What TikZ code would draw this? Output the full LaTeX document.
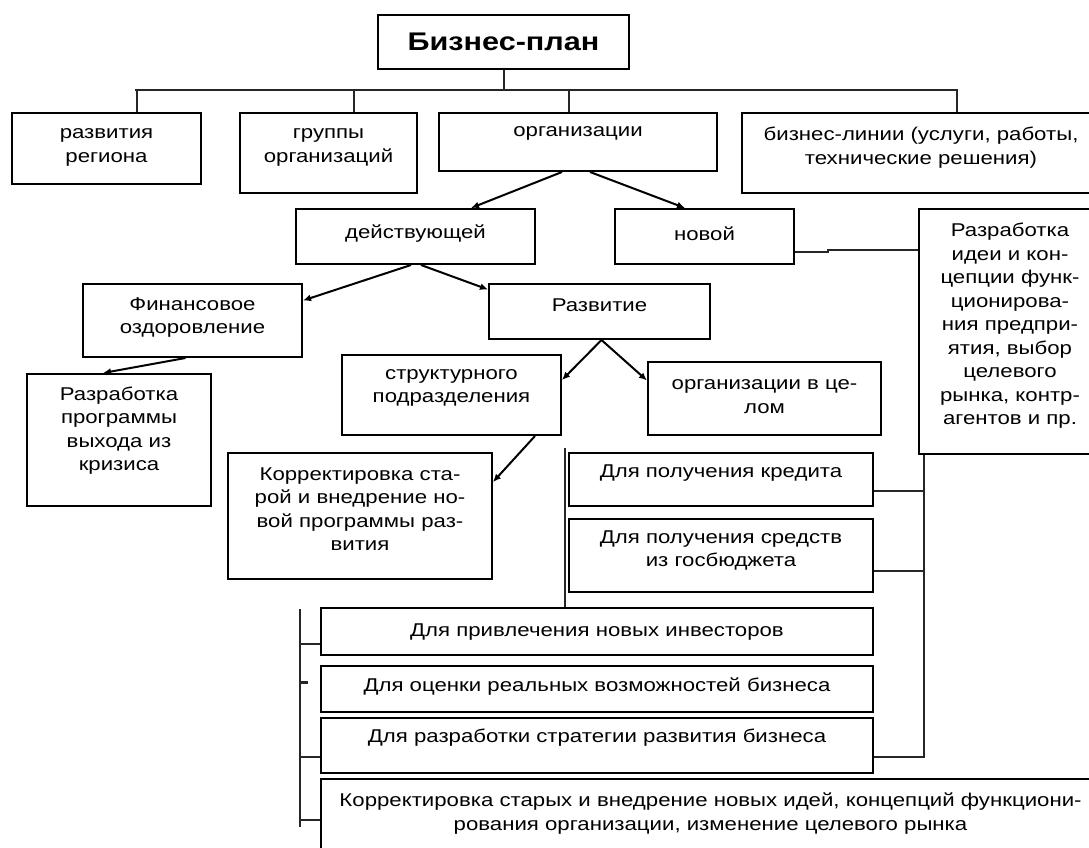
\documentclass[tikz,border=0pt]{standalone}
\usepackage{fontspec}
\setmainfont[FakeStretch=1.2]{Liberation Sans}
\usetikzlibrary{arrows.meta}
\tikzset{
  boxn/.style={draw=black, line width=2pt, inner sep=0pt, rectangle},
  txt/.style={inner sep=0pt, align=center, font=\fontsize{18.5}{23.5}\selectfont, text=black},
  conn/.style={line width=2pt, draw=black!85},
  arr/.style={conn, draw=black, -{Latex[length=8pt,width=7pt]}},
}
\newcommand\bx[7]{%
  \node[boxn, minimum width={#4-#2}, minimum height={#5-#3}] (#1) at ({(#2+#4)/2},{(#3+#5)/2}) {};
  \node[txt] (#1-t) at ({(#2+#4)/2},#6) {#7};
}
\begin{document}
\begin{tikzpicture}[x=1pt,y=-1pt]
\useasboundingbox (0,0) rectangle (1089,848);
\clip (0,0) rectangle (1089,848);
\fill[white] (0,0) rectangle (1089,848);

% boxes
\node[boxn, minimum width=251, minimum height=54] (title) at (503.5,42) {};
\node[txt, font=\fontsize{25.5}{30}\selectfont\bfseries] (title-t) at (503.5,42) {Бизнес-план};

\bx{reg}{12}{113}{201}{184}{147.5}{развития\\региона}
\bx{grp}{240}{113}{417}{193}{147.5}{группы\\организаций}
\bx{org}{439}{113}{717}{171}{133}{организации}
\bx{biz}{742}{113}{1100}{193}{147.5}{бизнес-линии (услуги, работы,\\технические решения)}
\bx{deyst}{296}{209}{535}{264}{234}{действующей}
\bx{novoy}{615}{209}{794}{264}{234}{новой}
\bx{idea}{919}{209}{1101}{454}{326}{Разработка\\идеи и кон-\\цепции функ-\\ционирова-\\ния предпри-\\ятия, выбор\\целевого\\рынка, контр-\\агентов и пр.}
\bx{fin}{83}{284}{302}{357}{317.5}{Финансовое\\оздоровление}
\bx{razv}{489}{284}{710}{339}{305}{Развитие}
\bx{prog}{27}{374}{211}{506}{430.5}{Разработка\\программы\\выхода из\\кризиса}
\bx{strukt}{342}{355}{561}{435}{388}{структурного\\подразделения}
\bx{orgc}{648}{362}{881}{435}{396.5}{организации в це-\\лом}
\bx{korr}{228}{453}{492}{579}{509}{Корректировка ста-\\рой и внедрение но-\\вой программы раз-\\вития}
\bx{kred}{569}{453}{873}{506}{473}{Для получения кредита}
\bx{sredstv}{569}{519}{873}{592}{550.5}{Для получения средств\\из госбюджета}
\bx{invest}{321}{608}{873}{655}{632}{Для привлечения новых инвесторов}
\bx{ocenka}{321}{666}{873}{712}{687}{Для оценки реальных возможностей бизнеса}
\bx{strat}{321}{718}{873}{773}{738}{Для разработки стратегии развития бизнеса}
\bx{korrb}{321}{779}{1100}{870}{813.5}{Корректировка старых и внедрение новых идей, концепций функциони-\\рования организации, изменение целевого рынка}

% top tree
\coordinate (busL) at (135,90);
\coordinate (busR) at (958,90);
\draw[conn] (title.south) -- (title.south |- busL);
\draw[conn] (busL) -- (busR);
\draw[conn] ([xshift=30.5pt]reg.north) |- (busL);
\draw[conn] ([xshift=25.5pt]grp.north) -- ([xshift=25.5pt]grp.north |- busL);
\draw[conn] ([xshift=-9pt]org.north) -- ([xshift=-9pt]org.north |- busL);
\draw[conn] ([xshift=36pt]biz.north) |- (busR);

% arrows
\draw[arr] ([xshift=-16pt]org.south) -- ([xshift=55.5pt]deyst.north);
\draw[arr] ([xshift=12pt]org.south) -- ([xshift=-19.5pt]novoy.north);
\draw[arr] ([xshift=-4.5pt]deyst.south) -- ([yshift=20pt]fin.east);
\draw[arr] ([xshift=5.5pt]deyst.south) -- ([yshift=22pt]razv.west);
\draw[arr] ([xshift=-7pt]fin.south) -- ([xshift=-16pt]prog.north);
\draw[arr] ([xshift=2pt]razv.south) -- ([yshift=15pt]strukt.east);
\draw[arr] ([xshift=2pt]razv.south) -- ([yshift=18pt]orgc.west);
\draw[arr] ([xshift=83.5pt]strukt.south) -- ([yshift=34pt]korr.east);

% новой -> idea
\draw[conn] ([yshift=-15.5pt]novoy.east) -- ++(33,0) -- ++(0,-2) -- ([yshift=81.5pt]idea.west);

% right vertical
\coordinate (rvtop) at ([xshift=6pt]idea.south west);
\draw[conn] ([yshift=-11.5pt]strat.east) -| (rvtop);
\draw[conn] ([yshift=-11.5pt]kred.east) -- ([yshift=-11.5pt]kred.east -| rvtop);
\draw[conn] ([yshift=-15.5pt]sredstv.east) -- ([yshift=-15.5pt]sredstv.east -| rvtop);

% middle vertical
\coordinate (lv1) at (565,448);
\coordinate (lv2) at (565,607);
\draw[conn] (lv1) -- (lv2);

% left bracket
\coordinate (lb1) at (300,609);
\coordinate (lb2) at (300,827);
\draw[conn] (lb1) -- (lb2);
\draw[conn] ([yshift=-12.5pt]invest.west) -- ([yshift=-12.5pt]invest.west -| lb1);
\draw[conn, line width=3pt] ([yshift=7pt]ocenka.west -| lb1) -- ++(8,0);
\draw[conn] ([yshift=-11.5pt]strat.west) -- ([yshift=-11.5pt]strat.west -| lb1);
\draw[conn] ([yshift=4.5pt]korrb.west) -- ([yshift=4.5pt]korrb.west -| lb1);
\end{tikzpicture}
\end{document}
